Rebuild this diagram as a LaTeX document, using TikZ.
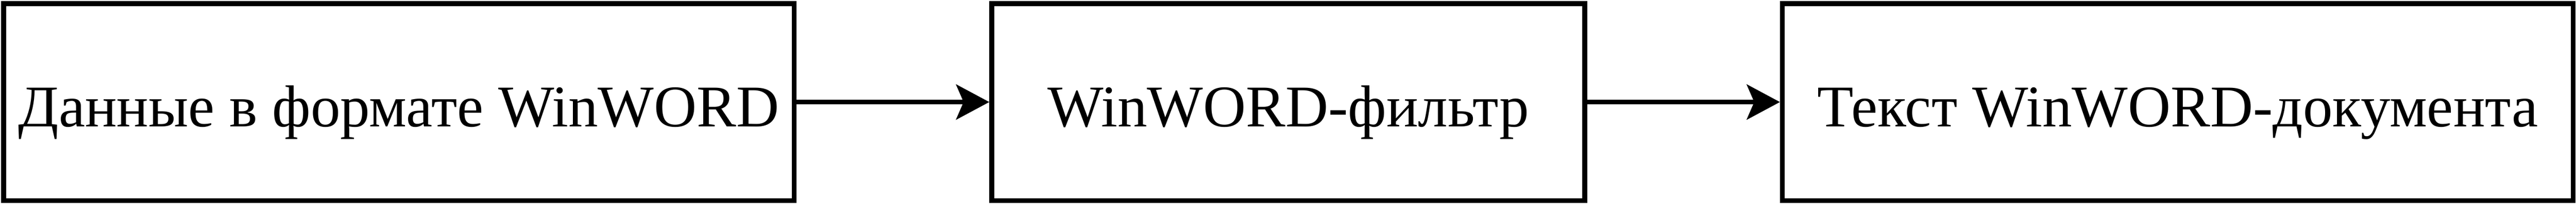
\documentclass[tikz,border=0pt]{standalone}
\usepackage{fontspec}
\setmainfont{Liberation Serif}
\usetikzlibrary{positioning, arrows.meta}

\begin{document}
\begin{tikzpicture}[
     node distance = 39pt,
         >={Stealth[length=6.7pt, width=7.1pt, inset=1.5pt]},
        box/.style = {rectangle, draw, line width=1pt, minimum height=40pt,
                      inner xsep=1pt, text height=12.4pt, text depth=2.4pt,
                      font=\fontsize{12}{14}\selectfont},
       wbox/.style = {box, minimum width=160pt},
       nbox/.style = {box, minimum width=120pt}
                        ]
\useasboundingbox (0,0) rectangle (521.3pt,41.3pt);
\node (data)  [wbox] at (80.7pt,20.6pt) {Данные в формате WinWORD};
\node (filter)[nbox, right =of data] {WinWORD-фильтр};
\node (text)  [wbox, right =of filter] {Текст WinWORD-документа};
\draw[->, line width=1pt] (data) to (filter);
\draw[->, line width=1pt] (filter) to (text);
\end{tikzpicture}
\end{document}
